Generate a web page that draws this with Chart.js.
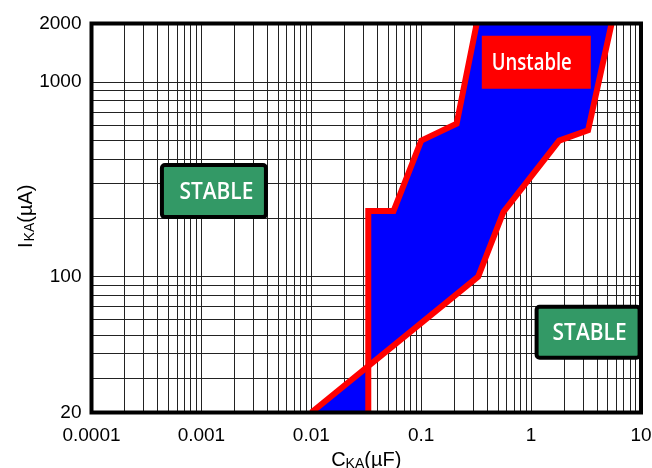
<!DOCTYPE html>
<html>
<head>
<meta charset="utf-8">
<script src="https://cdn.jsdelivr.net/npm/chart.js@4.4.1/dist/chart.umd.min.js"></script>
<style>
  html, body { margin: 0; padding: 0; background: #fff; }
  #wrap { width: 652px; height: 468px; }
</style>
</head>
<body>
<div id="wrap"><canvas id="stability" width="652" height="468"></canvas></div>
<script>
// Stability region boundaries: C_KA in uF, I_KA in uA
const leftEdgeC  = [0.32, 0.21, 0.1, 0.056, 0.033, 0.033];
const leftEdgeI  = [2000, 610, 500, 217, 217, 20];
const rightEdgeC = [5.4, 3.3, 1.8, 0.56, 0.33, 0.01];
const rightEdgeI = [2000, 565, 500, 215, 100, 20];

// labelled ticks
const xTickLabels = [0.0001, 0.001, 0.01, 0.1, 1, 10];
const yTickLabels = [20, 100, 1000, 2000];

const FONT = "'Liberation Sans', Arial, sans-serif";

function toPoints(xs, ys) {
    return xs.map((x, i) => ({ x: x, y: ys[i] }));
}

// the unstable area is the right edge walked upward, then the left edge walked down
const regionPoints = toPoints(rightEdgeC.slice().reverse(), rightEdgeI.slice().reverse())
    .concat(toPoints(leftEdgeC, leftEdgeI));

// grid lines: every 1..9 step of each decade
const xGrid = [];
[0.0001, 0.001, 0.01, 0.1, 1].forEach(d => {
    for (let m = 1; m <= 9; m++) xGrid.push(m * d);
});
xGrid.push(10);
const yGrid = [];
for (let m = 2; m <= 9; m++) yGrid.push(m * 10);
for (let m = 1; m <= 9; m++) yGrid.push(m * 100);
yGrid.push(1000, 2000);

function labelFor(v, list) {
    const hit = list.find(t => Math.abs(t - v) / t < 1e-6);
    return hit === undefined ? '' : String(hit);
}

// boxes placed at a data position (centre), sizes in px
const regionBoxes = [
    { text: 'STABLE', c: 0.0013, i: 275, w: 104, h: 52, fill: '#339966', border: true, dx: 2.5, tw: 74 },
    { text: 'STABLE', c: 3.3, i: 51.7, w: 103, h: 51, fill: '#339966', border: true, dx: 1.5, tw: 74 },
    { text: 'Unstable', c: 1.115, i: 1263, w: 109, h: 53, fill: '#ff0000', border: false, dx: -4.5, tw: 80 }
];

const decor = {
    id: 'decor',
    afterDatasetsDraw(chart) {
        const { ctx, chartArea: a, scales } = chart;
        regionBoxes.forEach(b => {
            const cx = scales.x.getPixelForValue(b.c);
            const cy = scales.y.getPixelForValue(b.i);
            ctx.save();
            ctx.beginPath();
            ctx.roundRect(cx - b.w / 2, cy - b.h / 2, b.w, b.h, b.border ? 3 : 0);
            ctx.fillStyle = b.fill;
            ctx.fill();
            if (b.border) {
                ctx.lineWidth = 4;
                ctx.strokeStyle = '#000';
                ctx.stroke();
            }
            ctx.fillStyle = '#fff';
            ctx.font = "600 23px 'Open Sans', sans-serif";
            ctx.textAlign = 'center';
            ctx.textBaseline = 'alphabetic';
            ctx.fillText(b.text, cx + b.dx, cy + 7.5, b.tw);
            ctx.restore();
        });
        // heavy frame round the plot
        ctx.save();
        ctx.lineWidth = 4;
        ctx.strokeStyle = '#000';
        ctx.strokeRect(a.left, a.top, a.right - a.left, a.bottom - a.top);
        ctx.restore();
    },
    afterDraw(chart) {
        const { ctx, chartArea: a } = chart;
        ctx.save();
        ctx.fillStyle = '#000';
        ctx.textBaseline = 'alphabetic';
        ctx.textAlign = 'left';
        // x title C_KA(uF)
        const big = '20px ' + FONT, small = '14px ' + FONT;
        ctx.font = big;
        const wC = ctx.measureText('C').width, wP = ctx.measureText('(µF)').width;
        ctx.font = small;
        const wK = ctx.measureText('KA').width;
        let x0 = (a.left + a.right) / 2 - (wC + wK + wP) / 2;
        const yb = 466;
        ctx.font = big; ctx.fillText('C', x0, yb);
        ctx.font = small; ctx.fillText('KA', x0 + wC, yb + 2);
        ctx.font = big; ctx.fillText('(µF)', x0 + wC + wK, yb);
        // y title I_KA(uA), rotated
        ctx.translate(31.5, 248);
        ctx.rotate(-Math.PI / 2);
        ctx.font = big;
        const wI = ctx.measureText('I').width;
        ctx.fillText('I', 0, 0);
        ctx.font = small; ctx.fillText('KA', wI + 1, 2);
        ctx.font = big; ctx.fillText('(µA)', wI + 1 + wK, 0);
        ctx.restore();
    }
};

const tickFont = { family: FONT, size: 19 };

new Chart(document.getElementById('stability').getContext('2d'), {
    type: 'scatter',
    data: {
        datasets: [
            {
                label: 'left edge',
                data: toPoints(leftEdgeC, leftEdgeI),
                showLine: true,
                borderColor: '#ff0000',
                borderWidth: 6,
                borderJoinStyle: 'miter',
                pointRadius: 0,
                fill: false
            },
            {
                label: 'right edge',
                data: toPoints(rightEdgeC, rightEdgeI),
                showLine: true,
                borderColor: '#ff0000',
                borderWidth: 6,
                borderJoinStyle: 'miter',
                pointRadius: 0,
                fill: false
            },
            {
                label: 'unstable',
                data: regionPoints,
                showLine: true,
                borderColor: 'rgba(0,0,0,0)',
                borderWidth: 1,
                backgroundColor: '#0000ff',
                pointRadius: 0,
                fill: 'shape'
            }
        ]
    },
    options: {
        responsive: false,
        animation: false,
        devicePixelRatio: 1,
        layout: { padding: { left: 0, right: 0, top: 23.5, bottom: 0 } },
        plugins: {
            legend: { display: false },
            tooltip: { enabled: false }
        },
        scales: {
            x: {
                type: 'logarithmic',
                min: 0.0001,
                max: 10,
                afterBuildTicks: s => { s.ticks = xGrid.map(v => ({ value: v })); },
                afterFit: s => {
                    s.height = 55.5;
                    s.paddingLeft = 0;
                    s.paddingRight = 11;
                },
                ticks: {
                    autoSkip: false,
                    maxRotation: 0,
                    padding: 12,
                    color: '#000',
                    font: tickFont,
                    callback: v => labelFor(v, xTickLabels)
                },
                grid: { color: '#222', lineWidth: 1, drawTicks: false },
                border: { display: false }
            },
            y: {
                type: 'logarithmic',
                min: 20,
                max: 2000,
                afterBuildTicks: s => { s.ticks = yGrid.map(v => ({ value: v })); },
                afterFit: s => { s.width = 91.5; },
                ticks: {
                    autoSkip: false,
                    padding: 10,
                    color: '#000',
                    font: tickFont,
                    callback: v => labelFor(v, yTickLabels)
                },
                grid: { color: '#222', lineWidth: 1, drawTicks: false },
                border: { display: false }
            }
        }
    },
    plugins: [decor]
});
</script>
</body>
</html>
